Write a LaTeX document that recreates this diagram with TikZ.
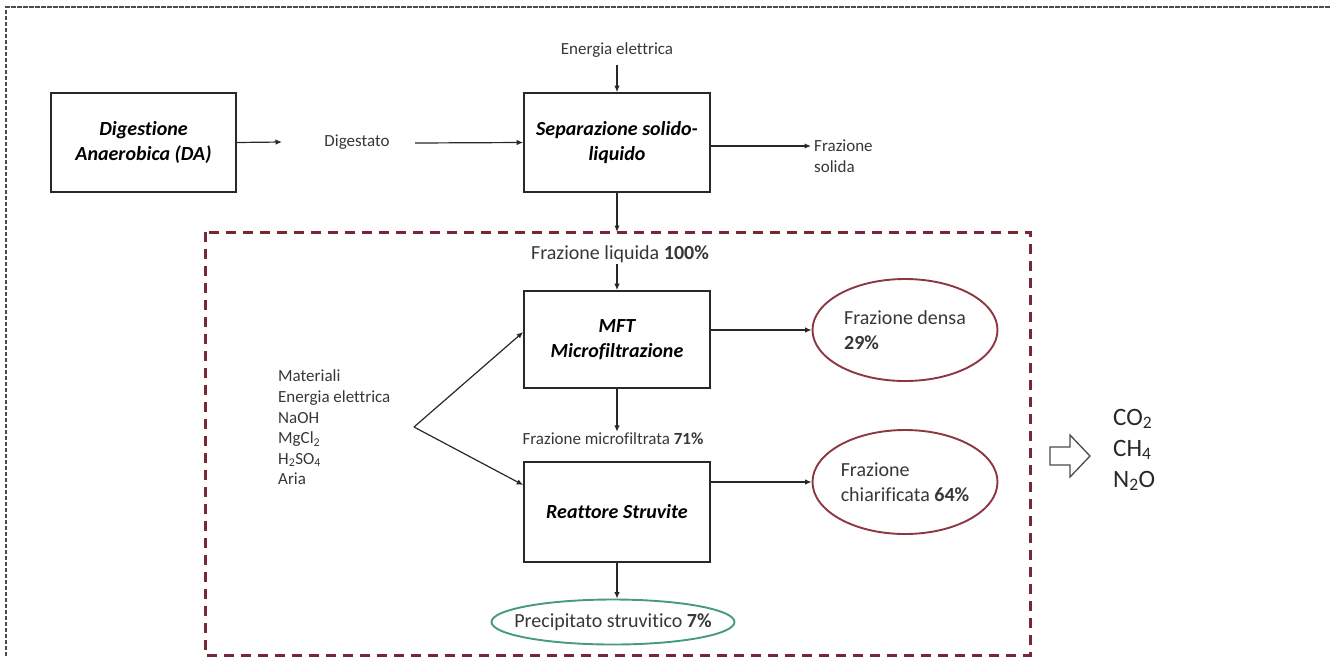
\documentclass[tikz,border=0pt]{standalone}
\usepackage{fontspec}
\setmainfont{Carlito}[Ligatures=NoCommon]
\usetikzlibrary{arrows.meta,shapes.geometric}
\definecolor{ink}{RGB}{40,40,40}
\definecolor{lbl}{RGB}{55,55,55}
\definecolor{maroon}{RGB}{120,40,52}
\definecolor{ellred}{RGB}{140,55,65}
\definecolor{ellgreen}{RGB}{70,155,125}
\definecolor{framegray}{RGB}{75,75,75}
\begin{document}
\begin{tikzpicture}[x=1pt,y=-1pt,
  procbox/.style={draw=ink, line width=1.6pt, minimum width=186pt, minimum height=99pt, inner sep=0pt, align=center, font=\fontsize{20}{25}\selectfont\bfseries\itshape, text=black},
  lab/.style={font=\fontsize{17}{20.7}\selectfont, text=lbl, inner sep=1pt},
  biglab/.style={font=\fontsize{20}{24.4}\selectfont, text=lbl, inner sep=1pt},
  outell/.style={ellipse, draw=ellred, line width=1.9pt, minimum width=185pt, minimum height=102pt, inner sep=0pt, align=left, font=\fontsize{20}{24.4}\selectfont, text=lbl},
  flow/.style={draw=ink, line width=1.2pt, -{Latex[length=6.5pt,width=5.5pt]}},
]
\useasboundingbox (0,0) rectangle (1330,657);
% outer frame
\draw[framegray, line width=1.1pt, dash pattern=on 4.5pt off 1.5pt] (6,680) -- (6,7) -- (1350,7);
% dashed system boundary
\draw[maroon, line width=3pt, dash pattern=on 10pt off 7pt] (205,232) rectangle (1030,655);
\coordinate (rtop) at (617,232);

\node[procbox, minimum width=185pt] (da) at (143.5,142.5) {Digestione\\Anaerobica (DA)};
\node[lab] (dig) at (357,142) {Digestato};
\node[procbox] (sep) at (617,142.5) {Separazione solido-\\liquido};
\node[lab] (en1) at (617,50) {Energia elettrica};
\node[lab, anchor=west, align=left] (fsol) at (813,156) {Frazione\\solida};

\node[biglab] (fliq) at (620,254) {Frazione liquida \textbf{100\%}};
\node[procbox, minimum height=97pt] (mft) at (617,339.5) {MFT\\Microfiltrazione};
\node[outell] (dens) at (905,330) {Frazione densa\\\textbf{29\%}};
\node[lab] (fmic) at (613,439) {Frazione microfiltrata \textbf{71\%}};
\node[procbox, minimum height=100pt] (reat) at (617,512) {Reattore Struvite};
\node[outell, minimum height=104pt] (chiar) at (905,482) {Frazione\\chiarificata \textbf{64\%}};
\node[ellipse, draw=ellgreen, line width=1.9pt, minimum width=243pt, minimum height=45pt, inner xsep=-16pt, inner ysep=0pt, font=\fontsize{20}{24.4}\selectfont, text=lbl] (prec) at (613,622) {Precipitato struvitico \textbf{7\%}};

\node[anchor=west, align=left, font=\fontsize{17}{20.6}\selectfont, text=lbl, inner sep=0pt] (mat) at (278,427.5) {Materiali\\Energia elettrica\\NaOH\\MgCl\textsubscript{2}\\H\textsubscript{2}SO\textsubscript{4}\\Aria};
\coordinate (vx) at (414,427);

\node[anchor=west, align=left, font=\fontsize{25}{31}\selectfont, text=ink, inner sep=0pt] (gas) at (1113,450) {CO\textsubscript{2}\\CH\textsubscript{4}\\N\textsubscript{2}O};

% connectors
\coordinate (dA) at (282,142);
\coordinate (dB) at (415,143);
\coordinate (fsA) at (811,146);
\draw[flow] (da.east) -- (dA);
\draw[flow] (dB) -- (sep.west);
\draw[flow, shorten <=6pt] (en1.south) -- (sep.north);
\draw[flow] (sep.east |- fsA) -- (fsA);
\draw[flow] (sep.south) -- (rtop);
\draw[flow] (mft.north |- fliq.south) -- (mft.north);
\draw[flow] (mft.east |- dens.west) -- (dens.west);
\draw[flow] (mft.south) -- (mft.south |- fmic.north);
\draw[flow] (reat.east |- chiar.west) -- (chiar.west);
\draw[flow] (reat.south) -- (reat.south |- prec.north);
\draw[flow] (vx) -- ([yshift=7.5pt]mft.west);
\draw[flow] (vx) -- ([yshift=27pt]reat.west);

% hollow arrow towards emissions
\draw[framegray, line width=1.3pt, line join=miter, fill=white]
  (1050,447) -- (1070,447) -- (1070,435) -- (1090,456) -- (1070,477) -- (1070,465) -- (1050,465) -- cycle;
\end{tikzpicture}
\end{document}
